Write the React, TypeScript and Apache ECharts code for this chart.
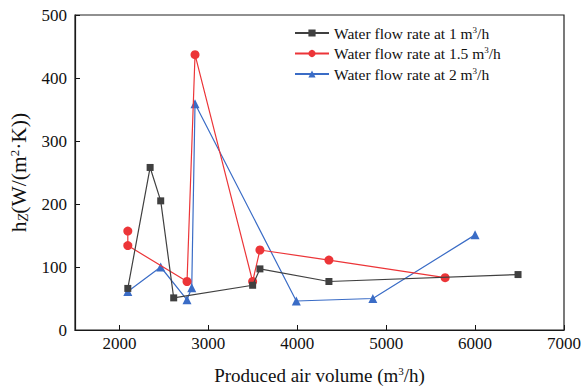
import React, { useEffect, useRef } from "react";
import * as echarts from "echarts";

const seriesNames = [
  "Water flow rate at 1 m{sup|3}/h",
  "Water flow rate at 1.5 m{sup|3}/h",
  "Water flow rate at 2 m{sup|3}/h",
];
const legendKeys = ["flow1", "flow15", "flow2"];

const xTicks = [2000, 3000, 4000, 5000, 6000, 7000];

const flow1X = [2094, 2345, 2464, 2610, 3498, 3580, 4356, 6483];
const flow1Y = [66, 258, 205, 51, 71, 97, 77, 88];

const flow15X = [2094, 2094, 2760, 2850, 3498, 3580, 4356, 5663];
const flow15Y = [157, 134, 77, 437, 77, 127, 111, 83];

const flow2X = [2094, 2464, 2760, 2813, 2850, 3989, 4850, 6000];
const flow2Y = [61, 100, 48, 67, 359, 46, 50, 151];

const colors = ["#404040", "#ec3538", "#3a6cc6"];
const symbols = ["rect", "circle", "triangle"];
const symbolSizes = [7, 9, 9];

const zip = (xs: number[], ys: number[]) => xs.map((x, i) => [x, ys[i]]);

export default function App() {
  const ref = useRef<HTMLDivElement>(null);
  useEffect(() => {
    if (!ref.current) return;
    document.body.style.margin = "0";
    const chart = echarts.init(ref.current, null, { renderer: "svg" });
    const font = "Liberation Serif";
    const datasets = [zip(flow1X, flow1Y), zip(flow15X, flow15Y), zip(flow2X, flow2Y)];
    const gl = 75, gt = 15, gw = 489, gh = 315;
    chart.setOption({
      animation: false,
      backgroundColor: "#fff",
      textStyle: { fontFamily: font },
      grid: { left: gl, top: gt, width: gw, height: gh, containLabel: false, outerBoundsMode: "none" },
      legend: {
        data: legendKeys,
        orient: "vertical",
        left: 289,
        top: 20,
        itemWidth: 34,
        itemHeight: 9,
        itemGap: 3.5,
        formatter: (name: string) => seriesNames[legendKeys.indexOf(name)],
        textStyle: {
          fontFamily: font,
          fontSize: 15.5,
          lineHeight: 16,
          color: "#111",
          rich: {
            sup: { fontSize: 9, lineHeight: 16, verticalAlign: "top", padding: [0, 0, 8, 0], fontFamily: font, color: "#111" },
          },
        },
      },
      xAxis: {
        type: "value",
        min: 1500,
        max: 7000,
        interval: 500,
        name: "Produced air volume (m{sup|3}/h)",
        nameLocation: "middle",
        nameGap: 35,
        nameTextStyle: {
          fontFamily: font,
          fontSize: 19,
          color: "#111",
          rich: {
            sup: { fontSize: 11, verticalAlign: "top", padding: [0, 0, 10, 0], fontFamily: font, color: "#111" },
          },
        },
        axisLine: { show: true, lineStyle: { color: "#111", width: 1.2 } },
        axisTick: { show: true, inside: true, length: 5, lineStyle: { color: "#111" }, customValues: xTicks },
        axisLabel: {
          fontFamily: font,
          fontSize: 17,
          color: "#111",
          margin: 5,
          customValues: xTicks,
          formatter: (v: number) => String(v),
        },
        splitLine: { show: false },
      },
      yAxis: {
        type: "value",
        min: 0,
        max: 500,
        interval: 100,
        name: "h{sub|Z}(W/(m{sup|2}·K))",
        nameLocation: "middle",
        nameGap: 29,
        nameTextStyle: {
          fontFamily: font,
          fontSize: 21.5,
          color: "#111",
          rich: {
            sup: { fontSize: 13, verticalAlign: "top", padding: [0, 0, 10, 0], fontFamily: font, color: "#111" },
            sub: { fontSize: 14, fontStyle: "italic", verticalAlign: "bottom", padding: [8, 0, 0, 0], fontFamily: font, color: "#111" },
          },
        },
        axisLine: { show: true, lineStyle: { color: "#111", width: 1.2 } },
        axisTick: { show: true, inside: true, length: 5, lineStyle: { color: "#111" } },
        axisLabel: { fontFamily: font, fontSize: 17, color: "#111", margin: 8, formatter: (v: number) => String(v) },
        splitLine: { show: false },
      },
      graphic: [
        {
          type: "rect",
          shape: { x: gl, y: gt, width: gw, height: gh },
          style: { fill: "none", stroke: "#222", lineWidth: 1.2 },
          silent: true,
          z: 10,
        },
      ],
      series: datasets.map((d, i) => ({
        name: legendKeys[i],
        type: "line",
        data: d,
        symbol: symbols[i],
        symbolSize: symbolSizes[i],
        showSymbol: true,
        color: colors[i],
        itemStyle: { color: colors[i] },
        lineStyle: { color: colors[i], width: 1.2 },
        z: 3 - i,
      })),
    });
    return () => chart.dispose();
  }, []);
  return <div ref={ref} style={{ width: 585, height: 387 }} />;
}
